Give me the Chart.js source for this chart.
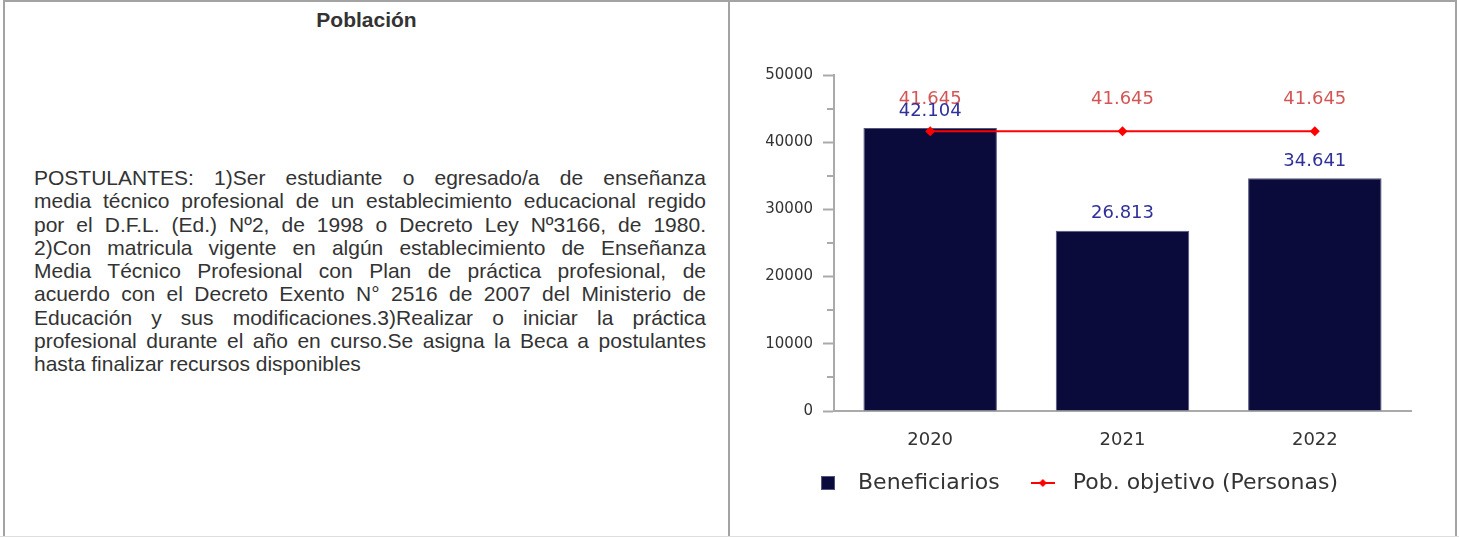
<!DOCTYPE html>
<html>
<head>
<meta charset="utf-8">
<script src="https://cdn.jsdelivr.net/npm/chart.js@4.4.1/dist/chart.umd.min.js"></script>
<style>
  html, body { margin: 0; padding: 0; background: #fff; }
  body { width: 1459px; height: 537px; position: relative; overflow: hidden; font-family: "Liberation Sans", Arial, sans-serif; color: #333; }
  .frame { position: absolute; left: 3px; top: 0; width: 1454px; height: 560px; border: 2px solid #a3a3a3; box-sizing: border-box; }
  .divider { position: absolute; left: 728px; top: 0; width: 2px; height: 537px; background: #a3a3a3; }
  .bottomline { position: absolute; left: 0; top: 536px; width: 1459px; height: 1px; background: #dedede; }
  .title { position: absolute; left: 5px; top: 8px; width: 723px; text-align: center; font-weight: bold; font-size: 21px; line-height: 24px; color: #333; }
  .text { position: absolute; left: 34px; top: 166px; width: 672px; font-size: 21px; line-height: 23.25px; color: #333; }
  .text span { display: block; text-align: justify; text-align-last: justify; white-space: nowrap; }
  .text span.last { text-align: left; text-align-last: left; }
  .chartbox { position: absolute; left: 734px; top: 40px; width: 682px; height: 470px; }
</style>
</head>
<body>
<div class="frame"></div>
<div class="divider"></div>
<div class="bottomline"></div>
<div class="title">Población</div>
<div class="text">
  <span>POSTULANTES: 1)Ser estudiante o egresado/a de enseñanza</span>
  <span>media técnico profesional de un establecimiento educacional regido</span>
  <span>por el D.F.L. (Ed.) Nº2, de 1998 o Decreto Ley Nº3166, de 1980.</span>
  <span>2)Con matricula vigente en algún establecimiento de Enseñanza</span>
  <span>Media Técnico Profesional con Plan de práctica profesional, de</span>
  <span>acuerdo con el Decreto Exento N° 2516 de 2007 del Ministerio de</span>
  <span>Educación y sus modificaciones.3)Realizar o iniciar la práctica</span>
  <span>profesional durante el año en curso.Se asigna la Beca a postulantes</span>
  <span class="last">hasta finalizar recursos disponibles</span>
</div>
<div class="chartbox"><canvas id="c"></canvas></div>
<script>
const categories = ['2020', '2021', '2022'];
const beneficiarios = [42104, 26813, 34641];
const poblacionObjetivo = [41645, 41645, 41645];
const seriesNames = ['Beneficiarios', 'Pob. objetivo (Personas)'];
const yMax = 50000;
const yStep = 10000;

const BAR_COLOR = '#0b0b3b';
const LINE_COLOR = '#ff0000';

function fmt(v) {
  return String(v).replace(/\B(?=(\d{3})+(?!\d))/g, '.');
}

// legend symbols
const sq = document.createElement('canvas');
sq.width = 14; sq.height = 14;
(function () {
  const c = sq.getContext('2d');
  c.fillStyle = BAR_COLOR; c.fillRect(0, 0, 14, 14);
  c.strokeStyle = '#55557f'; c.lineWidth = 1; c.strokeRect(0.5, 0.5, 13, 13);
})();
const ln = document.createElement('canvas');
ln.width = 24; ln.height = 10;
(function () {
  const c = ln.getContext('2d');
  c.strokeStyle = LINE_COLOR; c.lineWidth = 2;
  c.beginPath(); c.moveTo(0, 5); c.lineTo(24, 5); c.stroke();
  c.fillStyle = LINE_COLOR;
  c.beginPath(); c.moveTo(12, 1); c.lineTo(16, 5); c.lineTo(12, 9); c.lineTo(8, 5); c.closePath(); c.fill();
})();

const valueLabels = {
  id: 'valueLabels',
  afterDatasetsDraw(chart, args, opts) {
    const ctx = chart.ctx;
    chart.data.datasets.forEach((ds, di) => {
      const meta = chart.getDatasetMeta(di);
      const st = opts.styles[di];
      ctx.save();
      ctx.font = '18px "DejaVu Sans"';
      ctx.fillStyle = st.color;
      ctx.textAlign = 'center';
      ctx.textBaseline = 'middle';
      meta.data.forEach((el, i) => {
        ctx.fillText(fmt(ds.data[i]), el.x, el.y - st.offset);
      });
      ctx.restore();
    });
  }
};

const minorTicks = {
  id: 'minorTicks',
  afterDraw(chart) {
    const s = chart.scales.y;
    const ctx = chart.ctx;
    ctx.save();
    ctx.strokeStyle = '#aaaaaa';
    ctx.lineWidth = 2;
    for (let i = 0; i < s.ticks.length - 1; i++) {
      const mid = (s.ticks[i].value + s.ticks[i + 1].value) / 2;
      const y = Math.round(s.getPixelForValue(mid));
      ctx.beginPath();
      ctx.moveTo(s.right - 7, y);
      ctx.lineTo(s.right, y);
      ctx.stroke();
    }
    ctx.restore();
  }
};

new Chart(document.getElementById('c'), {
  data: {
    labels: categories,
    datasets: [
      {
        type: 'line',
        label: seriesNames[1],
        data: poblacionObjetivo,
        borderColor: LINE_COLOR,
        backgroundColor: LINE_COLOR,
        borderWidth: 2,
        pointStyle: 'rectRot',
        pointRadius: 5,
        pointBackgroundColor: LINE_COLOR,
        pointBorderWidth: 0,
        order: 1
      },
      {
        type: 'bar',
        label: seriesNames[0],
        data: beneficiarios,
        backgroundColor: BAR_COLOR,
        borderColor: '#55557f',
        borderWidth: 1,
        categoryPercentage: 1,
        barPercentage: 0.694,
        order: 2
      }
    ]
  },
  options: {
    responsive: true,
    maintainAspectRatio: false,
    animation: false,
    layout: { padding: { top: 35, right: 3, bottom: 6, left: 0 } },
    scales: {
      x: {
        offset: true,
        grid: { display: false },
        border: { color: '#aaaaaa', width: 2 },
        ticks: { font: { family: 'DejaVu Sans', size: 18 }, color: '#333', padding: 11 },
        afterFit(s) { s.height = 37; }
      },
      y: {
        min: 0,
        max: yMax,
        ticks: { stepSize: yStep, font: { family: 'DejaVu Sans', size: 15 }, color: '#333', padding: 10,
                 callback: (v) => String(v) },
        grid: { drawOnChartArea: false, drawTicks: true, tickLength: 11, tickColor: '#aaaaaa', tickWidth: 2 },
        border: { color: '#aaaaaa', width: 2 },
        afterFit(s) { s.width = 100; }
      }
    },
    plugins: {
      tooltip: { enabled: false },
      legend: {
        position: 'bottom',
        labels: {
          usePointStyle: true,
          pointStyleWidth: 38,
          padding: 24,
          font: { family: 'DejaVu Sans', size: 22 },
          color: '#333',
          generateLabels(chart) {
            return [
              { text: seriesNames[0], pointStyle: sq, fillStyle: BAR_COLOR, strokeStyle: BAR_COLOR, lineWidth: 0, hidden: false, datasetIndex: 1, fontColor: '#333' },
              { text: seriesNames[1], pointStyle: ln, fillStyle: LINE_COLOR, strokeStyle: LINE_COLOR, lineWidth: 0, hidden: false, datasetIndex: 0, fontColor: '#333' }
            ];
          }
        }
      },
      valueLabels: {
        styles: [
          { color: '#d45555', offset: 32 },
          { color: '#30309a', offset: 17 }
        ]
      }
    }
  },
  plugins: [valueLabels, minorTicks]
});
</script>
</body>
</html>
